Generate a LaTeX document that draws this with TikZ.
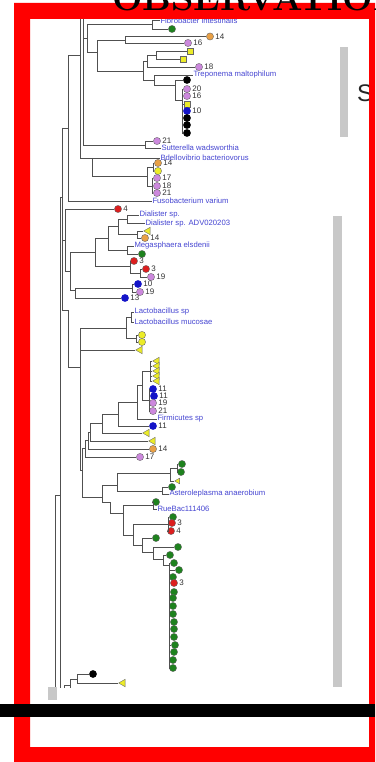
\documentclass[tikz,border=0pt]{standalone}
\usepackage{fontspec}
\newfontfamily\lsans{Liberation Sans}
\usetikzlibrary{shapes.geometric}
\definecolor{vioc}{RGB}{204,136,221}
\definecolor{orgc}{RGB}{232,160,70}
\definecolor{yelc}{RGB}{236,236,40}
\definecolor{grnc}{RGB}{30,130,30}
\definecolor{redc}{RGB}{220,30,30}
\definecolor{bluc}{RGB}{20,20,200}
\definecolor{lblc}{RGB}{70,70,210}
\definecolor{linec}{RGB}{80,80,80}
\definecolor{numc}{RGB}{50,50,50}
\definecolor{grayb}{RGB}{200,200,200}
\definecolor{framec}{RGB}{255,0,0}
\newcommand\lfn[5]{\node[#2] (#1) at (#3,#4) {};\ifx\relax#5\relax\else\node[num] (#1-n) at ([xshift=1pt]#1.east) {#5};\fi}
\begin{document}
\begin{tikzpicture}[x=1pt,y=-1pt,
  br/.style={draw=linec, line width=0.7pt},
  lf/.style={circle, inner sep=0pt, minimum size=7.2pt, draw=black!60, line width=0.35pt},
  vio/.style={lf, fill=vioc},
  org/.style={lf, fill=orgc},
  yec/.style={lf, fill=yelc},
  grn/.style={lf, fill=grnc},
  red/.style={lf, fill=redc},
  blu/.style={lf, fill=bluc, draw=bluc},
  blk/.style={lf, fill=black, draw=black},
  sqy/.style={rectangle, inner sep=0pt, minimum size=6pt, fill=yelc, draw=black!60, line width=0.35pt},
  triy/.style={isosceles triangle, isosceles triangle apex angle=60, shape border rotate=180, inner sep=0pt, minimum size=6.5pt, fill=yelc, draw=black!60, line width=0.35pt},
  triys/.style={triy, minimum size=5pt},
  lbl/.style={font=\lsans\fontsize{7.7}{8}\selectfont, text=lblc, anchor=west, inner sep=0.3pt},
  num/.style={font=\lsans\fontsize{8}{8}\selectfont, text=numc, anchor=west, inner sep=0.5pt}]
\useasboundingbox (0,0) rectangle (375,762);
\fill[white] (0,0) rectangle (375,762);
% tree
\begin{scope}
\clip (30,19) rectangle (369,687);
\lfn{g1}{grn}{172}{29}{}
\lfn{o14a}{org}{210}{36.5}{14}
\lfn{v16a}{vio}{188}{43}{16}
\lfn{sq1}{sqy}{190}{51}{}
\lfn{sq2}{sqy}{183}{59}{}
\lfn{v18a}{vio}{199}{67}{18}
\lfn{bk1}{blk}{187}{80}{}
\lfn{v20}{vio}{187}{89}{20}
\lfn{v16b}{vio}{187}{96}{16}
\lfn{sq3}{sqy}{187}{104}{}
\lfn{b10}{blu}{187}{111}{10}
\lfn{bk2}{blk}{187}{118}{}
\lfn{bk3}{blk}{187}{125}{}
\lfn{bk4}{blk}{187}{133}{}
\lfn{v21a}{vio}{157}{141}{21}
\lfn{o14b}{org}{158}{163}{14}
\lfn{y1}{yec}{158}{171}{}
\lfn{v17a}{vio}{157}{178}{17}
\lfn{v18b}{vio}{157}{186}{18}
\lfn{v21b}{vio}{157}{193}{21}
\lfn{r4}{red}{118}{209}{4}
\lfn{t1}{triy}{148}{231}{}
\lfn{o14c}{org}{145}{238}{14}
\lfn{g2}{grn}{142}{254}{}
\lfn{r3a}{red}{134}{261}{3}
\lfn{r3b}{red}{146}{269}{3}
\lfn{v19a}{vio}{151}{277}{19}
\lfn{b10b}{blu}{138}{284}{10}
\lfn{v19b}{vio}{140}{292}{19}
\lfn{b13}{blu}{125}{298}{13}
\lfn{yc1}{yec}{142}{335}{}
\lfn{yc2}{yec}{142}{342}{}
\lfn{t2}{triy}{140}{350}{}
\lfn{t3}{triy}{157}{361}{}
\lfn{t4}{triy}{157}{366}{}
\lfn{t5}{triy}{157}{371}{}
\lfn{t6}{triy}{157}{376}{}
\lfn{t7}{triy}{157}{381}{}
\lfn{b11a}{blu}{153}{389}{11}
\lfn{b11b}{blu}{154}{396}{11}
\lfn{v19c}{vio}{153}{403}{19}
\lfn{v21c}{vio}{153}{411}{21}
\lfn{b11c}{blu}{153}{426}{11}
\lfn{t8}{triy}{147}{433}{}
\lfn{t9}{triy}{153}{441}{}
\lfn{o14d}{org}{153}{449}{14}
\lfn{v17b}{vio}{140}{457}{17}
\lfn{g3}{grn}{182}{464}{}
\lfn{g4}{grn}{181}{472}{}
\lfn{yt}{triys}{178}{481}{}
\lfn{g5}{grn}{172}{487}{}
\lfn{g6}{grn}{156}{502}{}
\lfn{g7}{grn}{173}{517}{}
\lfn{r3c}{red}{172}{523}{3}
\lfn{r4b}{red}{171}{531}{4}
\lfn{g8}{grn}{156}{538}{}
\lfn{g9}{grn}{178}{547}{}
\lfn{g10}{grn}{170}{555}{}
\lfn{c1}{grn}{174}{563}{}
\lfn{c2}{grn}{179}{570}{}
\lfn{c3}{grn}{173}{577}{}
\lfn{c4}{red}{174}{583}{3}
\lfn{c5}{grn}{174}{592}{}
\lfn{c6}{grn}{173}{598}{}
\lfn{c7}{grn}{173}{606}{}
\lfn{c8}{grn}{173}{614}{}
\lfn{c9}{grn}{174}{622}{}
\lfn{c10}{grn}{174}{629}{}
\lfn{c11}{grn}{174}{637}{}
\lfn{c12}{grn}{175}{645}{}
\lfn{c13}{grn}{174}{652}{}
\lfn{c14}{grn}{173}{660}{}
\lfn{c15}{grn}{173}{668}{}
\lfn{bk5}{blk}{93}{674}{}
\lfn{t10}{triy}{123}{683}{}
% labels
\node[lbl] (fibL) at (160,20.5) {Fibrobacter intestinalis};
\node[lbl] (trepL) at (193,75) {Treponema maltophilum};
\node[lbl] (sutL) at (161,148) {Sutterella wadsworthia};
\node[lbl] (bdL) at (160,158) {Bdellovibrio bacteriovorus};
\node[lbl] (fusoL) at (152,201) {Fusobacterium varium};
\node[lbl] (dial1L) at (139,215) {Dialister sp.};
\node[lbl] (dial2L) at (145,223.5) {Dialister sp. ADV020203};
\node[lbl] (megL) at (134,246) {Megasphaera elsdenii};
\node[lbl] (lac1L) at (134,312) {Lactobacillus sp};
\node[lbl] (lac2L) at (134,322) {Lactobacillus mucosae};
\node[lbl] (firmL) at (157,419) {Firmicutes sp};
\node[lbl] (astL) at (169,494) {Asteroleplasma anaerobium};
\node[lbl] (rueL) at (157,509) {RueBac111406};
% internal nodes
\coordinate (T80) at (80,10); \coordinate (T83) at (83,10); \coordinate (J80) at (80,55);
\coordinate (Nfib) at (152,24.5); \coordinate (Np1) at (125,40); \coordinate (Nsq) at (156,55);
\coordinate (Nsq2) at (147,61); \coordinate (Ncol) at (182,100); \coordinate (Nt2) at (175,85);
\coordinate (Ntrep) at (154,80); \coordinate (Nbig) at (143,71); \coordinate (N97) at (97,52);
\coordinate (N87) at (87,38); \coordinate (Nsut) at (145,145); \coordinate (Nyo) at (153,167);
\coordinate (Nv) at (152,186); \coordinate (N147) at (147,176); \coordinate (N92) at (92,158);
\coordinate (N68) at (68,128); \coordinate (N62) at (62,128); \coordinate (N65) at (65,240);
\coordinate (Ndial) at (127,219); \coordinate (Nto) at (137,234); \coordinate (Nd) at (118,226);
\coordinate (Nmeg) at (127,250); \coordinate (Nd2) at (108,238); \coordinate (Nr2) at (140,273);
\coordinate (Nr) at (130,266); \coordinate (Nd3) at (95,252); \coordinate (Nbv) at (132,288);
\coordinate (N75) at (75,290); \coordinate (Nc) at (70,271); \coordinate (Nlac) at (131,317);
\coordinate (Nyc) at (136,338); \coordinate (Nlac2) at (126,328); \coordinate (Ntri) at (150,371);
\coordinate (Nbv3) at (149,400); \coordinate (Nx) at (142,385); \coordinate (Nf) at (137,402);
\coordinate (Ng) at (118,414); \coordinate (Nh) at (102,423); \coordinate (Nt9) at (90,432);
\coordinate (Nt10) at (88,440); \coordinate (Nt11) at (85,448); \coordinate (N80b) at (80,367);
\coordinate (N68b) at (68,310); \coordinate (Nt12) at (82,470); \coordinate (Ng34) at (177,468);
\coordinate (Ng5) at (170,473); \coordinate (Nast) at (162,491); \coordinate (Ne1) at (117,485);
\coordinate (Nrue) at (153,505); \coordinate (Nr3) at (168,524); \coordinate (Ncol2) at (169,565);
\coordinate (Nn1) at (163,559); \coordinate (Nn2) at (153,552); \coordinate (Nn3) at (142,545);
\coordinate (Nn4) at (133,535); \coordinate (Nn5) at (123,513); \coordinate (Nn6) at (110,502);
\coordinate (N102) at (102,497); \coordinate (Nb1) at (77,679); \coordinate (Nb2) at (70,685);
\coordinate (Boff) at (70,700); \coordinate (Nb3) at (64,700);
\coordinate (J62) at (62,197); \coordinate (J60) at (60,197); \coordinate (B60) at (60,700);
\coordinate (J55) at (55,495); \coordinate (J55b) at (60,495); \coordinate (B55) at (55,700);
\foreach \p/\c in {Nfib/fibL, Nfib/g1, Np1/o14a, Np1/v16a, Nsq/sq1, Nsq/sq2,
  Nsq2/Nsq, Nsq2/v18a, Ncol/v20, Ncol/v16b, Ncol/sq3, Ncol/b10, Ncol/bk2, Ncol/bk3, Ncol/bk4,
  Nt2/bk1, Nt2/Ncol, Ntrep/trepL, Ntrep/Nt2, Nbig/Nsq2, Nbig/Ntrep, N97/Np1, N97/Nbig,
  N87/Nfib, N87/N97, T83/N87, T83/Nsut, Nsut/v21a, Nsut/sutL, Nyo/o14b, Nyo/y1,
  Nv/v17a, Nv/v18b, Nv/v21b, N147/Nyo, N147/Nv, N92/bdL, N92/N147, T80/N92,
  N68/J80, N68/fusoL, N62/N68, N62/N65, N62/N68b, N65/r4, N65/Nc,
  Ndial/dial1L, Ndial/dial2L, Nto/t1, Nto/o14c, Nd/Ndial, Nd/Nto, Nmeg/megL, Nmeg/g2,
  Nd2/Nd, Nd2/Nmeg, Nr2/r3b, Nr2/v19a, Nr/r3a, Nr/Nr2, Nd3/Nd2, Nd3/Nr,
  Nbv/b10b, Nbv/v19b, N75/Nbv, N75/b13, Nc/Nd3, Nc/N75,
  Nlac/lac1L, Nlac/lac2L, Nyc/yc1, Nyc/yc2, Nlac2/Nlac, Nlac2/Nyc,
  Ntri/t3, Ntri/t4, Ntri/t5, Ntri/t6, Ntri/t7,
  Nbv3/b11a, Nbv3/b11b, Nbv3/v19c, Nbv3/v21c, Nx/Ntri, Nx/Nbv3, Nf/Nx, Nf/firmL,
  Ng/Nf, Ng/b11c, Nh/Ng, Nh/t8, Nt9/Nh, Nt9/t9, Nt10/Nt9, Nt10/o14d, Nt11/Nt10, Nt11/v17b,
  N80b/Nlac2, N80b/t2, N80b/Nt12, N68b/N80b,
  Ng34/g3, Ng34/g4, Ng5/Ng34, Ng5/yt, Nast/g5, Nast/astL, Ne1/Ng5, Ne1/Nast,
  Nrue/g6, Nrue/rueL, Nr3/g7, Nr3/r3c, Nr3/r4b,
  Ncol2/c1, Ncol2/c2, Ncol2/c3, Ncol2/c4, Ncol2/c5, Ncol2/c6, Ncol2/c7, Ncol2/c8,
  Ncol2/c9, Ncol2/c10, Ncol2/c11, Ncol2/c12, Ncol2/c13, Ncol2/c14, Ncol2/c15,
  Nn1/g10, Nn1/Ncol2, Nn2/g9, Nn2/Nn1, Nn3/g8, Nn3/Nn2, Nn4/Nr3, Nn4/Nn3,
  Nn5/Nrue, Nn5/Nn4, Nn6/Nn5, N102/Ne1, N102/Nn6, Nt12/Nt11, Nt12/N102,
  Nb1/bk5, Nb1/t10, Nb2/Nb1, Nb2/Boff, Nb3/Nb2}
  \draw[br] (\p) |- (\c);
\draw[br] (J62) -- (J60) -- (B60);
\draw[br] (J55b) -- (J55) -- (B55);
\end{scope}
% gray bars
\fill[grayb] (340,47) rectangle (348,137);
\fill[grayb] (333,216) rectangle (342,687);
\fill[grayb] (48,687) rectangle (57,700);
\node[font=\lsans\fontsize{24}{24}\selectfont, anchor=base west, inner sep=0pt, text=black!85] (S) at (357,102) {S};
% red frame
\fill[framec, even odd rule] (14,3) rectangle (375,762) (30,19) rectangle (369,747);
% clipped title
\begin{scope}
\clip (100,0) rectangle (375,11);
\node[font=\fontsize{36}{36}\selectfont\bfseries, anchor=base west, inner sep=0pt] (title) at (112,10.5) {OBSERVATIONS};
\end{scope}
% black bar
\fill[black] (0,704) rectangle (375,717);
\end{tikzpicture}
\end{document}
